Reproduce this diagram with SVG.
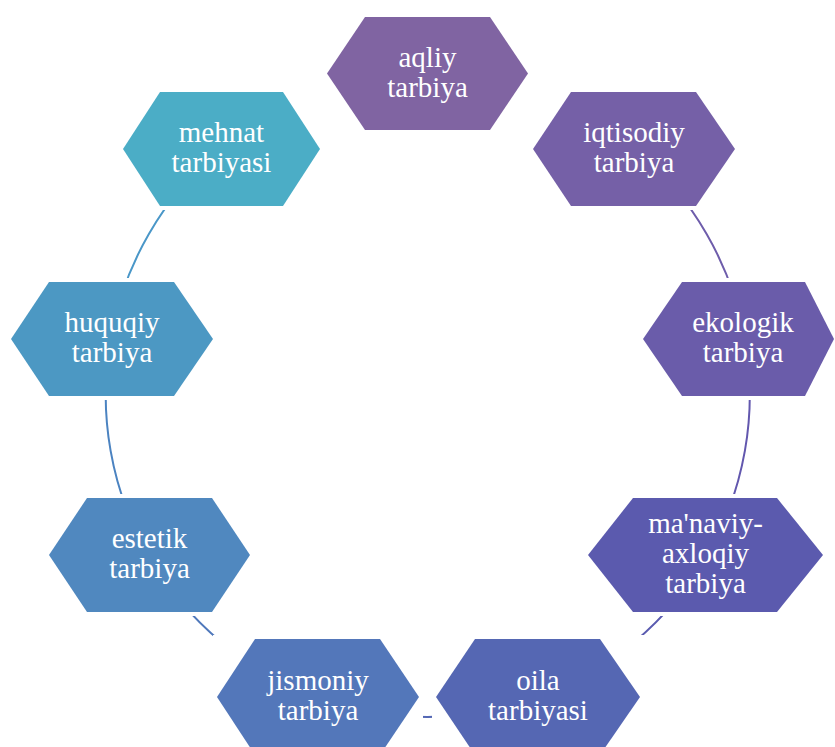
<svg xmlns="http://www.w3.org/2000/svg" width="835" height="747" viewBox="0 0 835 747">
<style>
.lbl{font-family:"Liberation Serif","Times New Roman",serif;font-size:29px;fill:#ffffff;text-anchor:middle}
.arc{fill:none;stroke-width:2}
</style>
<defs>
<mask id="gap" maskUnits="userSpaceOnUse" x="0" y="0" width="835" height="747">
<rect x="0" y="0" width="835" height="747" fill="#fff"/>
<rect x="323" y="13" width="209" height="121" fill="#000"/>
<rect x="529" y="88" width="210" height="122" fill="#000"/>
<rect x="639" y="278" width="200" height="122" fill="#000"/>
<rect x="584" y="494" width="243" height="122" fill="#000"/>
<rect x="432" y="635" width="212" height="122" fill="#000"/>
<rect x="213" y="635" width="210" height="122" fill="#000"/>
<rect x="45" y="494" width="209" height="122" fill="#000"/>
<rect x="7" y="278" width="210" height="122" fill="#000"/>
<rect x="119" y="88" width="205" height="122" fill="#000"/>
</mask>
</defs>
<rect x="0" y="0" width="835" height="747" fill="#ffffff"/>
<g id="connectors" mask="url(#gap)">
<path class="arc" stroke="#7B63A5" d="M427.75,73 A322,322 0 0 1 634.7,148.3"/>
<path class="arc" stroke="#6E5DAB" d="M634.7,148.3 A322,322 0 0 1 744.9,339.1"/>
<path class="arc" stroke="#6257AE" d="M744.9,339.1 A322,322 0 0 1 706.6,556"/>
<path class="arc" stroke="#5A5BB0" d="M706.6,556 A322,322 0 0 1 537.9,697.6"/>
<path class="arc" stroke="#5468B5" d="M537.9,697.6 A322,322 0 0 1 317.6,697.6"/>
<path class="arc" stroke="#4F78BB" d="M317.6,697.6 A322,322 0 0 1 148.9,556"/>
<path class="arc" stroke="#4B83C1" d="M148.9,556 A322,322 0 0 1 110.6,339.1"/>
<path class="arc" stroke="#4A97C8" d="M110.6,339.1 A322,322 0 0 1 220.8,148.3"/>
<path class="arc" stroke="#4AABC5" d="M220.8,148.3 A322,322 0 0 1 427.75,73"/>
</g>
<g id="aqliy">
<polygon fill="#8064A2" points="327,73.5 365,17 490,17 528,73.5 490,130 365,130"/>
<text class="lbl" x="427.5" y="67">aqliy</text>
<text class="lbl" x="427.5" y="97">tarbiya</text>
</g>
<g id="iqtisodiy">
<polygon fill="#7560A7" points="533,149 571,92 696,92 735,149 696,206 571,206"/>
<text class="lbl" x="634" y="142">iqtisodiy</text>
<text class="lbl" x="634" y="172">tarbiya</text>
</g>
<g id="ekologik">
<polygon fill="#6A5CAA" points="643,339 682,282 805,282 834,339 805,396 682,396"/>
<text class="lbl" x="743" y="332">ekologik</text>
<text class="lbl" x="743" y="362">tarbiya</text>
</g>
<g id="manaviy">
<polygon fill="#5B5AAE" points="588,555 633,498 777,498 823,555 777,612 633,612"/>
<text class="lbl" x="705.5" y="533">ma'naviy-</text>
<text class="lbl" x="705.5" y="563">axloqiy</text>
<text class="lbl" x="705.5" y="593">tarbiya</text>
</g>
<g id="oila">
<polygon fill="#5567B3" points="436,697 475,639 600,639 640,697 600,755 475,755"/>
<text class="lbl" x="538" y="690">oila</text>
<text class="lbl" x="538" y="720">tarbiyasi</text>
</g>
<g id="jismoniy">
<polygon fill="#5377BA" points="217,697 255,639 380,639 419,697 380,755 255,755"/>
<text class="lbl" x="318" y="690">jismoniy</text>
<text class="lbl" x="318" y="720">tarbiya</text>
</g>
<g id="estetik">
<polygon fill="#5088BF" points="49,555 87,498 212,498 250,555 212,612 87,612"/>
<text class="lbl" x="149.5" y="548">estetik</text>
<text class="lbl" x="149.5" y="578">tarbiya</text>
</g>
<g id="huquqiy">
<polygon fill="#4C98C3" points="11,339 49,282 174,282 213,339 174,396 49,396"/>
<text class="lbl" x="112" y="332">huquqiy</text>
<text class="lbl" x="112" y="362">tarbiya</text>
</g>
<g id="mehnat">
<polygon fill="#4BADC6" points="123,149 160,92 283,92 320,149 283,206 160,206"/>
<text class="lbl" x="221.5" y="142">mehnat</text>
<text class="lbl" x="221.5" y="172">tarbiyasi</text>
</g>
</svg>
